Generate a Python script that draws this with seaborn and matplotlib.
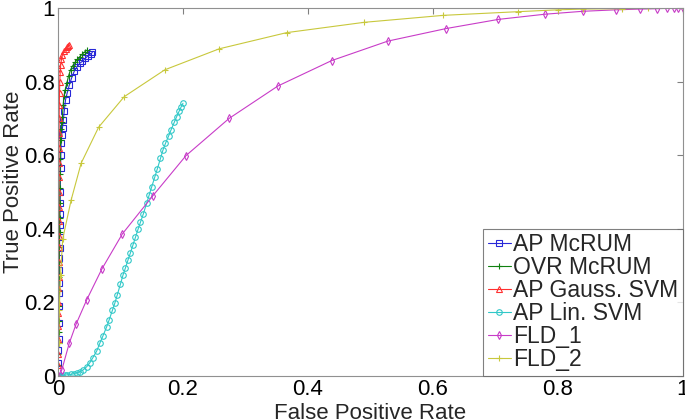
import numpy as np
import pandas as pd
import matplotlib
matplotlib.use("Agg")
import matplotlib.pyplot as plt
import seaborn as sns

# ROC curves (FPR, TPR)
ap_mcrum_fpr = [0, .0004, .0007, .001, .0012, .0014, .0016, .0018, .002, .0022, .0024, .0026,
                .0028, .003, .0033, .0036, .004, .0045, .005, .006, .0072, .0085, .01, .012,
                .0148, .018, .0218, .026, .0305, .035, .039, .0435, .048, .052, .055]
ap_mcrum_tpr = [0, .035, .07, .1, .144, .19, .226, .253, .288, .32, .348, .378,
                .41, .44, .47, .5, .565, .6, .632, .655, .675, .696, .72, .75,
                .77, .79, .81, .828, .84, .85, .855, .863, .87, .875, .879]

ovr_mcrum_fpr = [0, .0003, .0006, .0008, .001, .0012, .0014, .0016, .0018, .002, .0022, .0024,
                 .0026, .0028, .003, .0033, .0036, .004, .0048, .0058, .007, .0082, .0096, .0115,
                 .014, .0168, .02, .0235, .027, .031, .035, .039, .043, .047]
ovr_mcrum_tpr = [0, .03, .06, .09, .12, .15, .19, .23, .27, .31, .35, .39,
                 .43, .47, .51, .55, .59, .641, .67, .69, .705, .735, .76, .778,
                 .795, .815, .832, .843, .852, .86, .868, .875, .881, .886]

gauss_svm_fpr = [0, .0001, .0002, .0003, .0004, .0005, .0006, .0007, .0008, .0009, .001, .001,
                 .0011, .0012, .0012, .0013, .0014, .0015, .0016, .0018, .002, .0024, .0028, .0035,
                 .0043, .0055, .007, .0096, .012, .0145, .016, .0176]
gauss_svm_tpr = [0, .03, .06, .1, .135, .17, .2, .24, .27, .31, .35, .38,
                 .42, .46, .5, .54, .58, .62, .66, .7, .735, .77, .8, .825,
                 .845, .86, .872, .882, .889, .894, .897, .9]

lin_svm_fpr = [0, .003, .007, .011, .015, .02, .025, .03, .035, .04, .046, .051, .056, .062,
               .067, .072, .078, .082, .087, .091, .095, .1, .104, .108, .112, .116, .12, .124,
               .128, .132, .1365, .142, .146, .15, .155, .159, .164, .168, .172, .177, .181,
               .186, .19, .194, .197, .2]
lin_svm_tpr = [0, .0005, .001, .002, .003, .004, .006, .008, .011, .016, .025, .036, .05, .068,
               .089, .109, .134, .153, .178, .198, .221, .25, .274, .294, .315, .335, .356, .377,
               .398, .418, .44, .47, .492, .514, .541, .563, .591, .614, .632, .652, .669,
               .689, .705, .72, .731, .741]

fld1_fpr = [0, .006, .018, .029, .046, .07, .103, .152, .205, .274, .352, .438, .528, .621,
            .705, .779, .84, .893, .931, .958, .975, .986, .993, 1.0]
fld1_tpr = [0, .016, .089, .141, .207, .29, .386, .49, .599, .7, .788, .857, .91, .944,
            .969, .983, .991, .995, .997, .998, .999, 1.0, 1.0, 1.0]

fld2_fpr = [0, .001, .002, .004, .0075, .021, .037, .065, .106, .171, .258, .366, .49, .617,
            .737, .8, .84, .902, .944, 1.0]
fld2_tpr = [0, .09, .18, .275, .372, .478, .578, .676, .759, .832, .889, .933, .961, .98,
            .99, .995, .997, .998, .999, 1.0]

series = [
    ("AP McRUM", ap_mcrum_fpr, ap_mcrum_tpr, "#2828d8", "s"),
    ("OVR McRUM", ovr_mcrum_fpr, ovr_mcrum_tpr, "#108010", "+"),
    ("AP Gauss. SVM", gauss_svm_fpr, gauss_svm_tpr, "#ff3030", "^"),
    ("AP Lin. SVM", lin_svm_fpr, lin_svm_tpr, "#30c8c8", "o"),
    ("FLD_1", fld1_fpr, fld1_tpr, "#c83cc8", "d"),
    ("FLD_2", fld2_fpr, fld2_tpr, "#c8c83c", "+"),
]

sns.set_style("white")
plt.rcParams['font.family'] = ['Liberation Sans', 'DejaVu Sans']

fig = plt.figure(figsize=(6.85, 4.2), dpi=100)
ax = fig.add_axes([0.0847, 0.105, 0.912, 0.876])

for name, fpr, tpr, color, mk in series:
    df = pd.DataFrame({"fpr": fpr, "tpr": tpr})
    sns.lineplot(data=df, x="fpr", y="tpr", ax=ax, sort=False, estimator=None,
                 color=color, marker=mk, markersize=4, markerfacecolor="none",
                 markeredgecolor=color, markeredgewidth=0.8, linewidth=0.8, label=name)

ax.set_xlim(0, 1)
ax.set_ylim(0, 1)
ticks = [0, 0.2, 0.4, 0.6, 0.8, 1]
labels = ["0", "0.2", "0.4", "0.6", "0.8", "1"]
ax.set_xticks(ticks)
ax.set_xticklabels(labels)
ax.set_yticks(ticks)
ax.set_yticklabels(labels)
ax.tick_params(direction="in", length=4, width=0.8, color="#808080",
               top=True, right=True, labelsize=16, pad=2, labelcolor="black")
for sp in ax.spines.values():
    sp.set_color("#909090")
    sp.set_linewidth(0.8)

ax.set_xlabel("False Positive Rate", fontsize=16)
ax.set_ylabel("True Positive Rate", fontsize=16)
ax.xaxis.set_label_coords(0.5, -0.073)
ax.yaxis.set_label_coords(-0.055, 0.527)

leg = ax.legend(loc="lower right", fontsize=16.5, frameon=True, fancybox=False,
                borderaxespad=0, handlelength=1.0, handletextpad=0.1,
                labelspacing=0.0, borderpad=0.2)
leg.get_frame().set_edgecolor("#606060")
leg.get_frame().set_linewidth(0.8)

fig.savefig("out.png", dpi=100)
